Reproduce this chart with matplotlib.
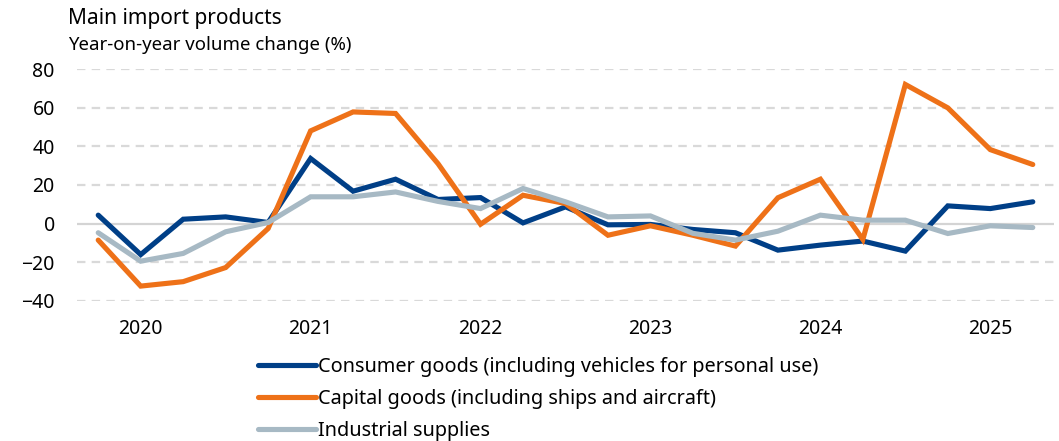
import matplotlib.pyplot as plt
import numpy as np

# quarterly year-on-year volume change, 2020Q1 - 2025Q3
consumer = [4.4, -16, 2.3, 3.5, 0.6, 33.7, 16.8, 23, 12.5, 13.5, 0.4, 8.7,
            -0.6, -0.4, -3, -4.7, -13.7, -11.1, -9, -14.2, 9.2, 7.8, 11.3]
capital = [-8.5, -32.3, -30, -22.7, -2.5, 48, 57.8, 57, 31, -0.3, 14.7, 10.4,
           -6, -1.1, -6, -11.6, 13.4, 23, -8.2, 72, 59.9, 38.3, 30.6]
industrial = [-4.7, -19.4, -15.4, -4.2, 0.6, 13.9, 13.9, 16.4, 11.5, 7.8, 18.2, 11.3,
              3.5, 4, -5, -8.5, -3.9, 4.4, 1.8, 1.8, -5.1, -1.1, -2]
years = ['2020', '2021', '2022', '2023', '2024', '2025']
labels = ['Consumer goods (including vehicles for personal use)',
          'Capital goods (including ships and aircraft)',
          'Industrial supplies']
colors = ['#003f87', '#ee7118', '#a7b9c4']

plt.rcParams['font.family'] = ['Noto Sans', 'DejaVu Sans']

fig = plt.figure(figsize=(10.59, 4.41), dpi=100)
ax = fig.add_axes([0.0727, 0.3175, 0.9226, 0.526])

x = np.arange(len(consumer))
for series, label, color in zip([consumer, capital, industrial], labels, colors):
    ax.plot(x, series, color=color, lw=3.7, label=label, solid_joinstyle='miter',
            solid_capstyle='round', clip_on=False, zorder=3)

ax.set_xlim(-0.5, 22.5)
ax.set_ylim(-40, 80)
ax.set_yticks(np.arange(-40, 81, 20))
ax.set_xticks([1, 5, 9, 13, 17, 21])
ax.set_xticklabels(years)

for v in np.arange(-40, 81, 20):
    if v == 0:
        ax.axhline(0, color='#d4d4d4', lw=1.6, zorder=1)
    else:
        ax.axhline(v, color='#d9d9d9', lw=1.6, ls=(0, (3.8, 2.8)), zorder=1)

for s in ax.spines.values():
    s.set_visible(False)
ax.tick_params(axis='both', length=0, labelsize=14, colors='black')
ax.tick_params(axis='y', pad=16)
ax.tick_params(axis='x', pad=13)

fig.text(0.064, 0.958, 'Main import products', fontsize=15, va='center')
fig.text(0.064, 0.897, 'Year-on-year volume change (%)', fontsize=13.4, va='center')

fig.legend(loc='upper left', bbox_to_anchor=(0.2436, 0.19), frameon=False,
           fontsize=14.3, handlelength=2.9, handletextpad=0.12, labelspacing=0.6,
           borderaxespad=0, borderpad=0)

fig.savefig('out.png', dpi=100)
